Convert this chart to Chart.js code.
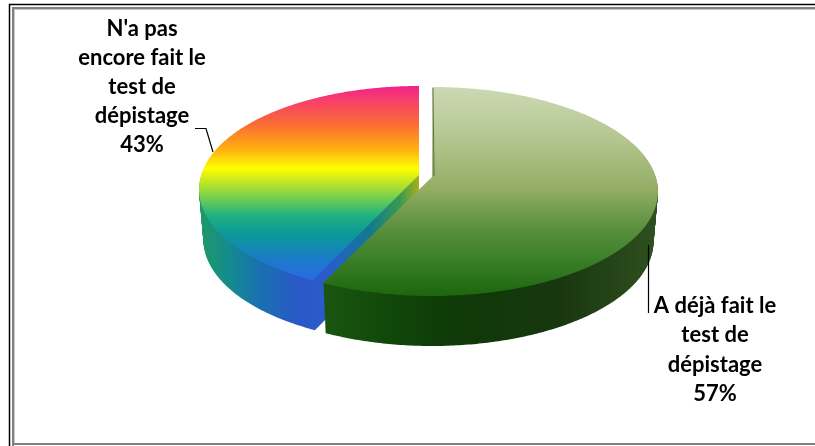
<!DOCTYPE html>
<html>
<head>
<meta charset="utf-8">
<style>
  html, body { margin: 0; padding: 0; background: #fff; overflow: hidden; }
  canvas { display: block; }
</style>
<script src="https://cdn.jsdelivr.net/npm/chart.js@4/dist/chart.umd.min.js"></script>
</head>
<body>
<canvas id="pie" width="815" height="446"></canvas>
<script>
const categories = ["A déjà fait le test de dépistage", "N'a pas encore fait le test de dépistage"];
const values     = [57, 43];
const labelLines = [
  ["A déjà fait le", "test de", "dépistage"],
  ["N'a pas", "encore fait le", "test de", "dépistage"],
];

// ── Look: screen geometry of each exploded slice, and its fills ──────
const DEPTH = 50;
const geom = [
  { cx: 432, cy: 177, rx: 226, far: 90, near: 119 },
  { cx: 419, cy: 175, rx: 220, far: 89, near: 118 },
];
const topFills = [
  { y0: 87, y1: 296, stops: [[0, "#ccd9b4"], [0.25, "#b4c690"], [0.49, "#93ad63"], [0.66, "#5e9240"], [0.83, "#3a7f27"], [1, "#1c660e"]] },
  { y0: 85, y1: 280, stops: [[0, "#f0208c"], [0.08, "#f8406a"], [0.2, "#fb6a34"], [0.33, "#ffb010"], [0.43, "#ffff00"], [0.49, "#c8e820"], [0.59, "#68cc58"], [0.67, "#20b080"], [0.76, "#0c9a98"], [0.87, "#1880c0"], [1, "#2a68e8"]] },
];
const wallFills = [
  { x0: 330, x1: 658, stops: [[0, "#1a5410"], [0.15, "#114a0a"], [0.37, "#0e3a07"], [0.7, "#18370f"], [1, "#2f5020"]] },
  { x0: 200, x1: 420, stops: [[0, "#1f9a66"], [0.14, "#138a90"], [0.27, "#1a70b0"], [0.45, "#2a58c8"], [0.59, "#2a5cc8"], [0.77, "#107a90"], [0.91, "#3a9a50"], [1, "#b0b018"]] },
];
const labelPos = [
  { x: 715, y: 306, step: 29.3 },
  { x: 142, y: 28.5, step: 29 },
];

function linear(ctx, x0, y0, x1, y1, stops) {
  const g = ctx.createLinearGradient(x0, y0, x1, y1);
  stops.forEach(([p, c]) => g.addColorStop(p, c));
  return g;
}

// Context wrapper that bends the paths of an arc element through a tilted-disc
// perspective, so the near half of the pie comes out larger than the far half.
function tiltedContext(ctx, el, g, dy, shrink) {
  const k = (g.near - g.far) / (g.near + g.far);
  const b = g.far * (1 + k);
  const a = g.rx * Math.sqrt(1 - k * k) * shrink;
  const R = el.outerRadius;
  const project = (px, py) => {
    const u = (px - el.x) / R, v = (py - el.y) / R, w = 1 - k * v;
    return [g.cx + a * u / w, g.cy + dy + b * v / w];
  };
  const own = {
    moveTo: (x, y) => ctx.moveTo(...project(x, y)),
    lineTo: (x, y) => ctx.lineTo(...project(x, y)),
    arc(x, y, r, a0, a1) {
      const n = r > 0 ? 160 : 0;
      for (let i = 0; i <= n; i++) {
        const t = a0 + (a1 - a0) * i / (n || 1);
        ctx.lineTo(...project(x + r * Math.cos(t), y + r * Math.sin(t)));
      }
    },
  };
  return new Proxy(ctx, {
    get(t, key) {
      if (key in own) return own[key];
      const val = t[key];
      return typeof val === "function" ? val.bind(t) : val;
    },
    set(t, key, val) { t[key] = val; return true; },
  });
}

function drawStamp(ctx, el, g, dy, shrink, fill) {
  const stamp = Object.create(el);
  stamp.options = Object.assign({}, el.options, { backgroundColor: fill, borderWidth: 0 });
  stamp.draw(tiltedContext(ctx, el, g, dy, shrink));
}

function drawFrame(ctx) {
  ctx.strokeStyle = "#000";
  ctx.lineWidth = 1.5;
  ctx.beginPath();
  ctx.moveTo(9.5, 446); ctx.lineTo(9.5, 4.5); ctx.lineTo(815, 4.5);
  ctx.stroke();
  ctx.fillStyle = "#808080";
  ctx.fillRect(12, 7, 803, 2);
  ctx.fillRect(12, 7, 2, 439);
  ctx.fillRect(12, 443, 803, 2);
  ctx.fillStyle = "#c8c8c8";
  ctx.fillRect(14, 9, 801, 1);
  ctx.fillRect(14, 9, 1, 434);
}

const pie3d = {
  id: "pie3d",
  beforeDatasetsDraw(chart) {
    const ctx = chart.ctx;
    const arcs = chart.getDatasetMeta(0).data;
    drawFrame(ctx);
    // rainbow slice first, green one sits in front of it
    [1, 0].forEach(i => {
      const el = arcs[i], g = geom[i], wall = wallFills[i], top = topFills[i];
      const wallFill = linear(ctx, wall.x0, 0, wall.x1, 0, wall.stops);
      for (let d = DEPTH; d >= 1; d--) {
        drawStamp(ctx, el, g, d, 1 - 0.02 * d / DEPTH, wallFill);
      }
      drawStamp(ctx, el, g, 0, 1, linear(ctx, 0, top.y0, 0, top.y1, top.stops));
    });
    return false;
  },
  afterDraw(chart) {
    const ctx = chart.ctx;
    // leader lines and the thin dark cut edge
    ctx.strokeStyle = "#000";
    ctx.lineWidth = 1.2;
    ctx.beginPath();
    ctx.moveTo(195, 128.5); ctx.lineTo(206, 128.5); ctx.lineTo(213, 152);
    ctx.moveTo(648.5, 245); ctx.lineTo(648.5, 313);
    ctx.stroke();
    ctx.strokeStyle = "rgba(40,50,30,0.6)";
    ctx.lineWidth = 1;
    ctx.beginPath();
    ctx.moveTo(433, 88); ctx.lineTo(434, 176);
    ctx.stroke();

    ctx.fillStyle = "#000";
    ctx.font = "bold 22px Lato";
    ctx.textAlign = "center";
    ctx.textBaseline = "middle";
    labelLines.forEach((lines, i) => {
      const p = labelPos[i];
      [...lines, values[i] + "%"].forEach((t, n) => ctx.fillText(t, p.x, p.y + n * p.step));
    });
  },
};

new Chart(document.getElementById("pie"), {
  type: "pie",
  data: {
    labels: categories,
    datasets: [{ data: values, backgroundColor: ["#3a7f27", "#ffff00"], borderWidth: 0 }],
  },
  options: {
    responsive: false,
    animation: false,
    plugins: { legend: { display: false }, tooltip: { enabled: false } },
  },
  plugins: [pie3d],
});
</script>
</body>
</html>
